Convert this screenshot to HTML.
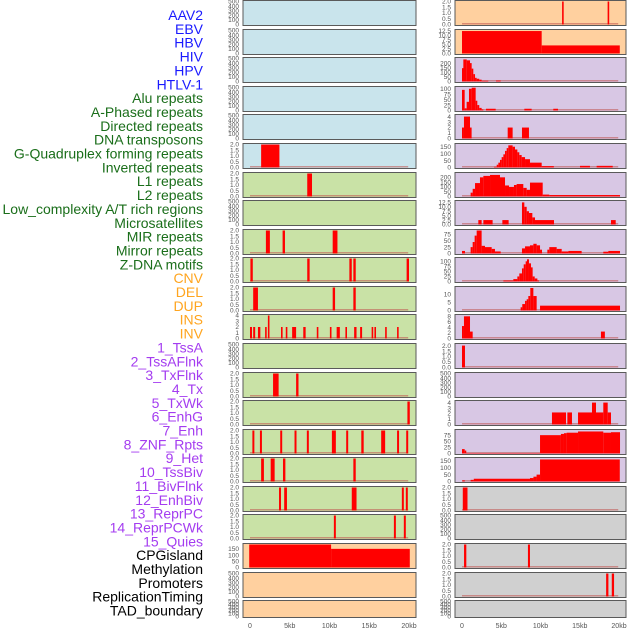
<!DOCTYPE html>
<html><head><meta charset="utf-8">
<style>
html,body{margin:0;padding:0;background:#fff;}
svg{display:block;font-family:"Liberation Sans",sans-serif;}
</style></head>
<body>
<svg id="chart" width="630" height="630" viewBox="0 0 630 630"></svg>
<script>
const featureLabels = ["AAV2","EBV","HBV","HIV","HPV","HTLV-1","Alu repeats","A-Phased repeats","Directed repeats","DNA transposons","G-Quadruplex forming repeats","Inverted repeats","L1 repeats","L2 repeats","Low_complexity A/T rich regions","Microsatellites","MIR repeats","Mirror repeats","Z-DNA motifs","CNV","DEL","DUP","INS","INV","1_TssA","2_TssAFlnk","3_TxFlnk","4_Tx","5_TxWk","6_EnhG","7_Enh","8_ZNF_Rpts","9_Het","10_TssBiv","11_BivFlnk","12_EnhBiv","13_ReprPC","14_ReprPCWk","15_Quies","CPGisland","Methylation","Promoters","ReplicationTiming","TAD_boundary"];
const labelGroups = ["blue","blue","blue","blue","blue","blue","green","green","green","green","green","green","green","green","green","green","green","green","green","orange","orange","orange","orange","orange","purple","purple","purple","purple","purple","purple","purple","purple","purple","purple","purple","purple","purple","purple","purple","black","black","black","black","black"];
const xTicks = [0,5,10,15,20];
const xTickLabels = ["0","5kb","10kb","15kb","20kb"];
// left column: background group, y max, segments [startKb,endKb,value]
const leftBg = ["blue","blue","blue","blue","blue","blue","green","green","green","green","green","green","green","green","green","green","green","green","green","orange","orange","orange"];
const leftMax = [0,0,0,0,0,2,2,2,2,2,0,2,0,2,2,2,2,2,2,2,0,0];
const leftMaxV = [500,500,500,500,500,2,2,500,2,2,2,4,500,2,2,2,2,2,2,185,500,500];
const leftSegs = [
 [],[],[],[],[],
 [[1.4,3.7,2]],
 [[7.2,7.8,2]],
 [],
 [[2.0,2.5,2],[4.1,4.4,2],[10.4,11.0,2]],
 [[0.05,0.35,2],[7.2,7.5,2],[12.5,12.8,2],[13.0,13.3,2],[19.7,20.0,2]],
 [[0.4,1.0,2],[10.4,10.7,2],[13.0,13.3,2]],
 [[0.0,0.25,2],[0.4,0.65,2],[1.0,1.3,2],[1.9,2.1,2],[2.25,2.45,4],[3.9,4.1,2],[4.5,4.7,2],[5.3,5.8,2],[6.7,7.0,2],[8.4,8.6,2],[10.05,10.25,2],[10.9,11.3,2],[12.0,12.2,2],[13.1,13.4,2],[13.85,14.1,2],[15.3,15.5,2],[15.65,15.85,2],[17.0,17.2,2],[18.5,18.7,2]],
 [],
 [[2.9,3.6,2],[5.8,6.1,2]],
 [[19.8,20.1,2]],
 [[0.3,0.55,2],[1.25,1.5,2],[3.8,4.05,2],[5.6,5.85,2],[7.15,7.4,2],[10.3,10.8,2],[12.1,12.35,2],[14.0,14.3,2],[16.5,17.0,2],[18.5,18.75,2],[19.65,19.9,2]],
 [[1.4,1.75,2],[2.6,3.1,2],[4.15,4.45,2],[13.0,13.3,2]],
 [[3.65,3.9,2],[4.3,4.65,2],[12.8,13.4,2],[19.1,19.35,2],[19.6,19.85,2]],
 [[10.55,10.8,2],[18.1,18.35,2],[19.35,19.6,2]],
 [[-0.1,10.2,185],[10.2,20.1,150]],
 [],[]
];
const leftTicks = [];
const rightBg = ["orange","orange","purple","purple","purple","purple","purple","purple","purple","purple","purple","purple","purple","purple","purple","purple","purple","gray","gray","gray","gray","gray"];
const rightMaxV = [2,12.8,250,106,4.2,166,240,13,90,114,14.3,8.3,2.1,500,4.2,94,167,2,500,2,2,500];
const rightTickSets = [[0,0.5,1,1.5,2],[0,2.5,5,7.5,10,12.5],[0,50,100,150,200],[0,25,50,75,100],[0,1,2,3,4],[0,50,100,150],[0,50,100,150,200],[0,2.5,5,7.5,10,12.5],[0,25,50,75],[0,25,50,75,100],[0,5,10],[0,2,4,6,8],[0,0.5,1,1.5,2],[0,100,200,300,400,500],[0,1,2,3,4],[0,25,50,75],[0,50,100,150],[0,0.5,1,1.5,2],[0,100,200,300,400,500],[0,0.5,1,1.5,2],[0,0.5,1,1.5,2],[0,100,200,300,400,500]];
const rightSegs = [
 [[12.75,12.95,2],[18.55,18.75,2]],
 [[0,10.15,12.5],[10.15,20.1,4.5]],
 [[0,0.17,145],[0.17,0.6,240],[0.6,1.02,230],[1.02,1.23,200],[1.23,1.44,140],[1.44,1.66,80],[1.66,1.87,40],[1.87,2.2,30],[2.2,2.5,20],[2.5,3.35,8],[4.33,4.93,10]],
 [[0,0.34,95],[0.34,0.59,10],[0.59,0.89,40],[0.89,1.23,100],[1.23,1.74,105],[1.74,1.95,45],[1.95,2.2,25],[2.2,2.5,12],[2.5,2.72,5],[3.06,4.29,8],[7.94,8.87,8],[11.63,12.23,8]],
 [[0,0.25,2],[0.25,1.02,4],[1.02,1.15,2],[5.82,6.45,2],[7.64,8.53,2]],
 [[4.08,4.42,5],[4.42,4.63,20],[4.63,4.84,35],[4.84,5.05,55],[5.05,5.27,75],[5.27,5.48,95],[5.48,5.69,120],[5.69,5.9,140],[5.9,6.45,160],[6.45,6.75,150],[6.75,7.05,130],[7.05,7.3,110],[7.3,7.6,90],[7.6,8.03,75],[8.03,8.66,60],[8.66,10.15,35],[10.15,11.7,10],[15.03,16.3,12],[17.15,19.2,12]],
 [[1.1,1.36,40],[1.36,1.66,80],[1.66,2.29,140],[2.29,2.72,200],[2.72,3.57,215],[3.57,4.84,225],[4.84,5.48,200],[5.48,5.99,115],[5.99,6.62,100],[6.62,6.96,120],[6.96,7.81,130],[7.81,8.24,90],[8.24,8.66,70],[8.66,10.28,145],[10.28,11.12,20],[11.12,20.13,15]],
 [[2.08,2.5,2.5],[2.72,3.9,2.5],[5.14,5.94,2.5],[7.64,7.94,12.5],[7.94,8.24,10],[8.24,8.53,7.5],[8.53,8.96,6.5],[8.96,9.3,4],[9.3,11.72,2.5],[18.98,19.58,2.5]],
 [[0,0.38,10],[1.1,1.36,25],[1.36,1.61,45],[1.61,1.87,70],[1.87,2.5,90],[2.5,2.93,30],[2.93,3.78,25],[3.78,4.2,18],[4.2,4.93,8],[7.64,8.03,20],[8.03,8.66,28],[8.66,9.09,32],[9.09,9.51,38],[9.51,9.94,32],[9.94,10.19,15],[10.87,11.12,15],[11.12,12.06,25],[12.06,12.7,18],[12.7,13.55,8],[13.55,15.24,10],[18.0,18.64,7],[18.64,20.13,10]],
 [[5.27,6.54,5],[6.54,7.05,12],[7.05,7.3,25],[7.3,7.64,40],[7.64,7.86,65],[7.86,8.11,85],[8.11,8.28,100],[8.28,8.53,110],[8.53,8.79,90],[8.79,9.0,70],[9.0,9.26,25],[9.26,9.6,15],[9.6,9.72,5]],
 [[7.47,7.68,2],[7.68,8.03,4],[8.03,8.24,6],[8.24,8.45,7],[8.45,8.7,9],[8.7,9.09,14],[9.09,9.51,9],[9.94,20.13,3]],
 [[0,0.25,4.5],[0.25,1.02,8],[1.02,1.36,2.5],[17.7,18.2,2.5]],
 [[0,0.38,2]],
 [],
 [[11.46,13.25,2.2],[13.42,14.01,2.2],[14.78,16.56,2.2],[16.56,17.07,4],[17.07,18.0,2.2],[18.0,18.56,4],[18.56,18.98,2.2]],
 [[0,0.34,18],[0.34,0.51,12],[0.51,9.94,2],[9.94,12.6,75],[12.6,12.99,80],[12.99,13.33,83],[13.33,14.78,85],[14.78,18.0,90],[18.0,18.98,85],[18.98,20.13,87]],
 [[0.04,0.36,8],[1.1,1.5,12],[1.5,8.66,20],[8.66,9.1,25],[9.1,9.5,35],[9.5,9.94,50],[9.94,20.1,160]],
 [[0.1,0.7,2]],
 [],
 [[0.26,0.55,2],[8.4,8.66,2]],
 [[18.36,18.65,2],[19.08,19.37,2]],
 []
];
const bgColors = {blue:"#c9e4ec",green:"#c9e2a6",orange:"#ffd09f",purple:"#d8c7e4",gray:"#d0d0d0"};
const labelColors = {blue:"#1a1aff",green:"#1a6e1a",orange:"#ffa51f",purple:"#a43cf0",black:"#000"};

const NS = "http://www.w3.org/2000/svg";
const svg = document.getElementById("chart");
function mk(tag, attrs, parent){ const e=document.createElementNS(NS,tag); for(const k in attrs) e.setAttribute(k,attrs[k]); (parent||svg).appendChild(e); return e; }

// labels
featureLabels.forEach((t,i)=>{
  const el = mk("text",{x:203,y:15+i*13.85+5,"text-anchor":"end","font-size":"14",fill:labelColors[labelGroups[i]]});
  el.textContent=t;
  
  
});

const tops = [0,29,57,86,114,143,172,200,229,257,286,314,343,372,400,429,457,486,514,543,572,600];
function tickSetFor(maxV){
  if(maxV===500) return [0,100,200,300,400,500];
  if(maxV===2) return [0,0.5,1,1.5,2];
  if(maxV===4) return [0,1,2,3,4];
  return [0,50,100,150];
}
function fmt(v,set){
  const dec = set.some(s=>s%1!==0) || (set[set.length-1]<=2);
  return dec ? v.toFixed(1) : String(v);
}
function drawCol(colX, colW, x0, x1, bgs, maxVs, tickSets, segs, colName){
  const xs = kb => x0 + (kb/20)*(x1-x0);
  tops.forEach((top,r)=>{
    const h = r===21?17:25;
    const g = mk("g",{});
    
    
    mk("rect",{x:colX,y:top+0.5,width:colW,height:h,fill:bgColors[bgs[r]],stroke:"#5a5a5a","stroke-width":1},g);
    const maxV = maxVs[r];
    const bot = top+h-0.5, ptop = top+1.5;
    const ys = v => bot - (v/maxV)*(bot-ptop);
    const ticks = tickSets[r];
    ticks.forEach(v=>{
      const t = mk("text",{x:colX-4,y:ys(v)+2.2,"text-anchor":"end","font-size":"6.5",fill:"#555"},g);
      t.textContent = fmt(v,ticks);
      
      
    });
    if(maxV!==500){
      const bl = mk("rect",{x:xs(0),y:bot-1.5,width:xs(19.9)-xs(0),height:1.5,fill:"#c0504d","fill-opacity":0.55},g);
      
      
    }
    segs[r].forEach(s=>{
      const w = Math.max(xs(s[1])-xs(s[0]),1.6);
      const b = mk("rect",{x:xs(s[0]),y:ys(s[2]),width:w,height:bot-ys(s[2]),fill:"#ff0000"},g);
      
      
    });
  });
  xTicks.forEach((v,i)=>{
    const t = mk("text",{x:xs(v),y:628,"text-anchor":"middle","font-size":"7",fill:"#555"});
    t.textContent = xTickLabels[i];
    
    
  });
}
const leftTickSets = leftMaxV.map(m=> m===185?[0,50,100,150]:tickSetFor(m));
drawCol(243,173,250,409,leftBg,leftMaxV,leftTickSets,leftSegs,"left");
drawCol(455,171,462,619,rightBg,rightMaxV,rightTickSets,rightSegs,"right");
</script>
</body></html>
